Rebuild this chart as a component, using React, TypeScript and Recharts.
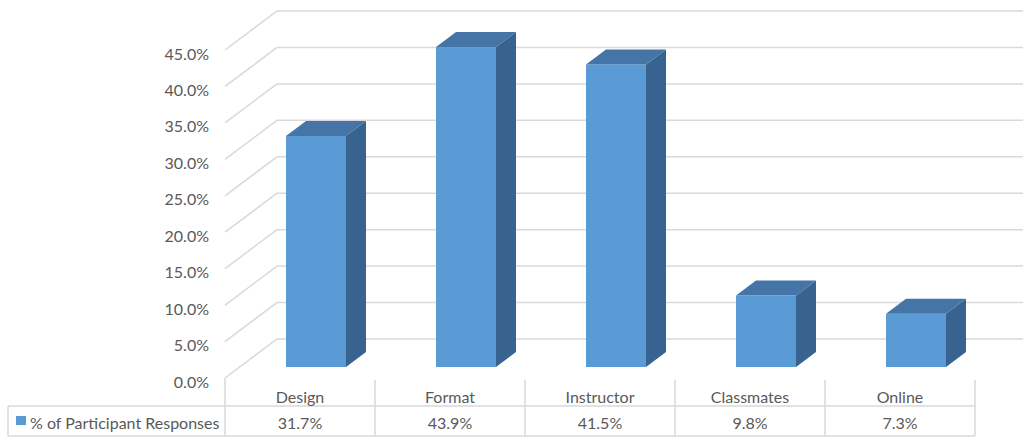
import { Bar, BarChart, CartesianGrid, XAxis, YAxis } from "recharts";

const categories = ["Design", "Format", "Instructor", "Classmates", "Online"];
const responses = [31.7, 43.9, 41.5, 9.8, 7.3];
const yTicks = [0, 5, 10, 15, 20, 25, 30, 35, 40, 45];
const seriesName = "% of Participant Responses";

const data = categories.map((c, i) => ({ category: c, value: responses[i] }));

// 3D geometry (Excel-style column chart)
const FRONT_DX = -16; // front plane relative to bar front face
const FRONT_DY = 11;
const WALL_DX = 52; // back wall relative to front plane
const WALL_DY = -39;
const DEPTH_DX = 20; // bar depth
const DEPTH_DY = -15;
const W = 1023;
const H = 445;
const GRID = "#d9d9d9";
const TEXT = "#595959";
const FONT = "Lato, 'Open Sans', sans-serif";
const FS = 16;

const pct = (v: number) => `${v.toFixed(1)}%`;

function Column3D(props: any) {
  const { x, y, width, height } = props;
  if (height <= 0) return null;
  const dx = DEPTH_DX;
  const dy = DEPTH_DY;
  return (
    <g>
      <rect x={x} y={y} width={width} height={height} fill="#5b9bd5" />
      <polygon
        points={`${x},${y} ${x + dx},${y + dy} ${x + width + dx},${y + dy} ${x + width},${y}`}
        fill="#4575a6"
      />
      <polygon
        points={`${x + width},${y} ${x + width + dx},${y + dy} ${x + width + dx},${y + height + dy} ${x + width},${y + height}`}
        fill="#386390"
      />
    </g>
  );
}

function GridLine(props: any) {
  const { x1, y1 } = props;
  const fx = x1 + FRONT_DX;
  const fy = y1 + FRONT_DY;
  const bx = fx + WALL_DX;
  const by = fy + WALL_DY;
  return (
    <g key={props.key}>
      <line x1={fx} y1={fy} x2={bx} y2={by} stroke={GRID} strokeWidth={1.5} />
      <line x1={bx} y1={by} x2={W} y2={by} stroke={GRID} strokeWidth={1.5} />
    </g>
  );
}

function YTick(props: any) {
  const { y, payload } = props;
  return (
    <text
      x={209}
      y={y + FRONT_DY + 3}
      textAnchor="end"
      dominantBaseline="central"
      fill={TEXT}
      fontSize={FS}
      fontFamily={FONT}
    >
      {pct(payload.value)}
    </text>
  );
}

function TableTick(props: any) {
  const { x, index, payload } = props;
  const fc = x + FRONT_DX;
  const left = fc - 75;
  const right = fc + 75;
  const top = 378;
  const mid = 406;
  const bottom = 436;
  return (
    <g>
      {index === 0 && (
        <g>
          <line x1={left} y1={top} x2={left} y2={bottom} stroke={GRID} strokeWidth={1.5} />
          <line x1={8} y1={mid} x2={left} y2={mid} stroke={GRID} strokeWidth={1.5} />
          <line x1={8} y1={bottom} x2={left} y2={bottom} stroke={GRID} strokeWidth={1.5} />
          <line x1={8} y1={mid} x2={8} y2={bottom} stroke={GRID} strokeWidth={1.5} />
          <rect x={16} y={416} width={10} height={9} fill="#5b9bd5" />
          <text x={30} y={422} dominantBaseline="central" fill={TEXT} fontSize={FS} fontFamily={FONT}>
            {seriesName}
          </text>
        </g>
      )}
      <line x1={right} y1={top + 2} x2={right} y2={bottom} stroke={GRID} strokeWidth={1.5} />
      <line x1={left} y1={mid} x2={right} y2={mid} stroke={GRID} strokeWidth={1.5} />
      <line x1={left} y1={bottom} x2={right} y2={bottom} stroke={GRID} strokeWidth={1.5} />
      <text x={fc} y={396} textAnchor="middle" dominantBaseline="central" fill={TEXT} fontSize={FS} fontFamily={FONT}>
        {payload.value}
      </text>
      <text x={fc} y={422} textAnchor="middle" dominantBaseline="central" fill={TEXT} fontSize={FS} fontFamily={FONT}>
        {pct(responses[index])}
      </text>
    </g>
  );
}

export default function App() {
  return (
    <div style={{ position: "absolute", left: 0, top: 0, width: W, height: H, background: "#fff" }}>
      <BarChart
        width={W}
        height={H}
        data={data}
        margin={{ top: 39, right: 32, bottom: 38, left: 201 }}
        barSize={60}
      >
        <CartesianGrid vertical={false} horizontal={GridLine} />
        <YAxis
          width={40}
          domain={[0, 45]}
          ticks={yTicks}
          axisLine={false}
          tickLine={false}
          tick={YTick}
          interval={0}
        />
        <XAxis
          dataKey="category"
          height={40}
          axisLine={false}
          tickLine={false}
          tick={TableTick}
          interval={0}
        />
        <Bar dataKey="value" shape={Column3D} isAnimationActive={false} />
      </BarChart>
    </div>
  );
}
